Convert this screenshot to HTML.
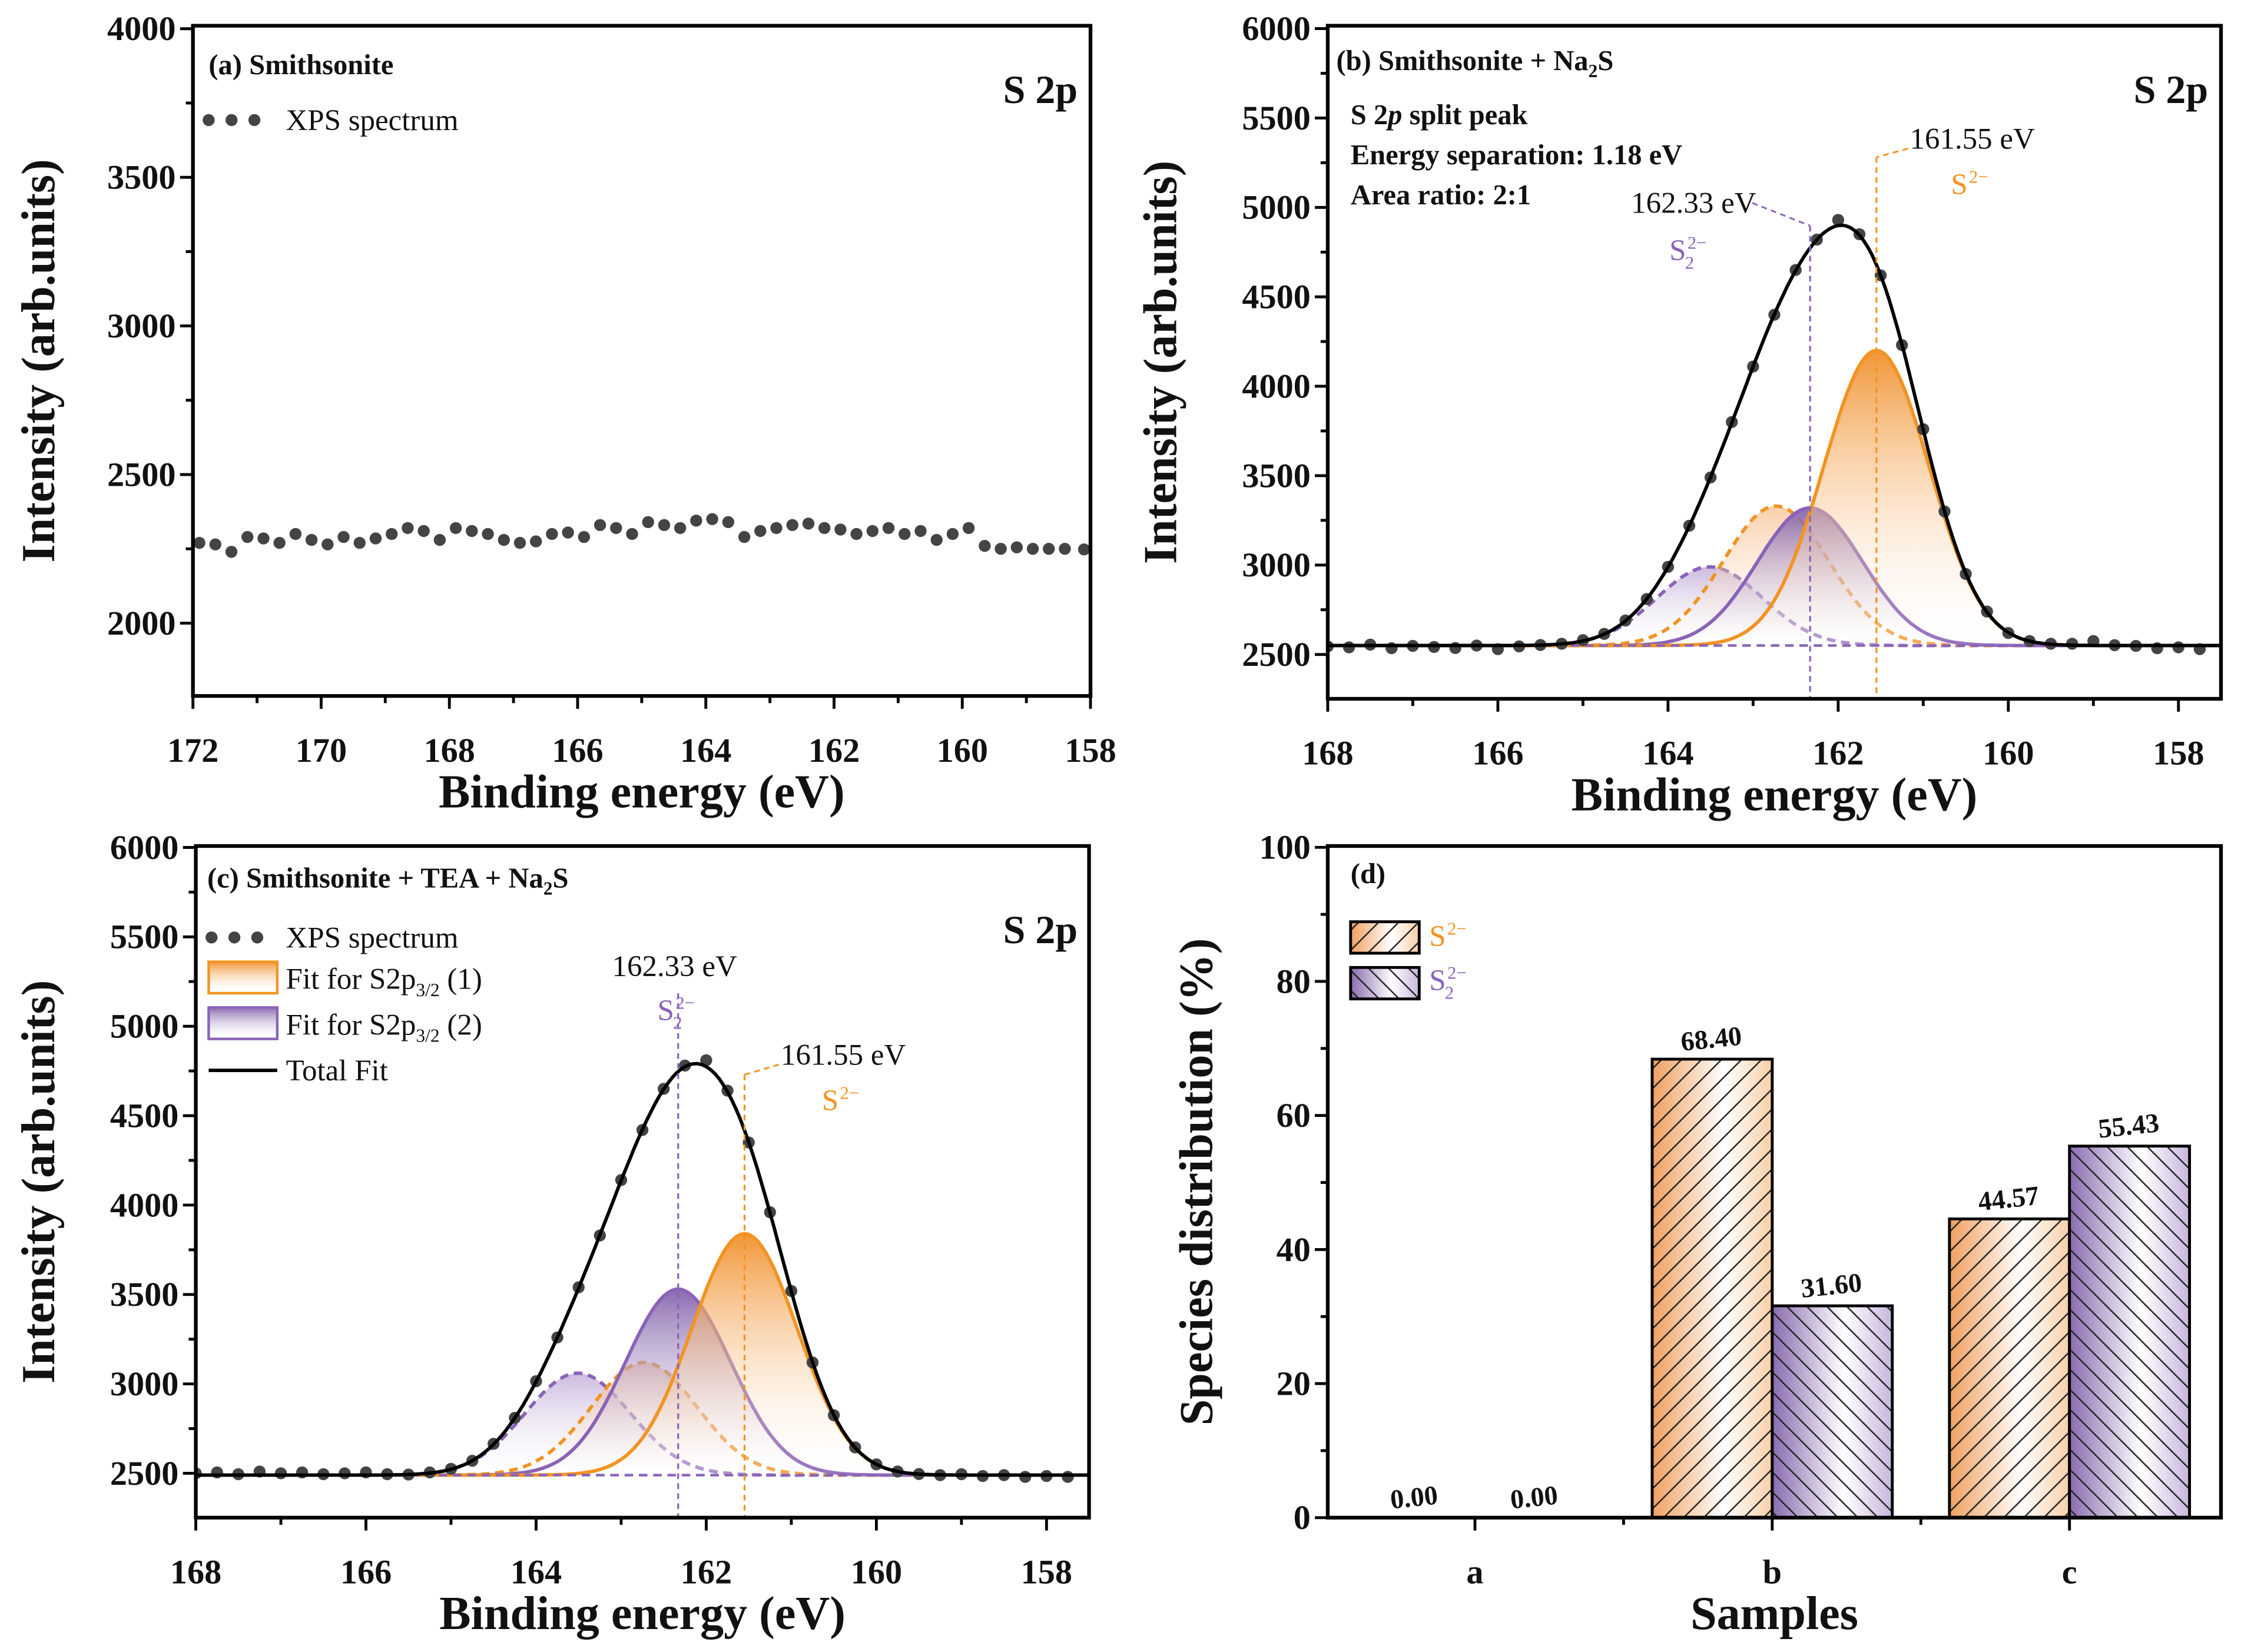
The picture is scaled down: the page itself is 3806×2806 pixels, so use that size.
<!DOCTYPE html>
<html><head><meta charset="utf-8"><style>
html,body{margin:0;padding:0;background:#fff}
svg{display:block}
text{font-family:"Liberation Serif",serif;font-weight:bold;fill:#111}
</style></head><body>
<svg id="fig" xmlns="http://www.w3.org/2000/svg" width="3806" height="2806" viewBox="0 0 1568 1156">
<defs>
<linearGradient id="gO" x1="0" y1="0" x2="0" y2="1"><stop offset="0" stop-color="#f08a20" stop-opacity="0.9"/><stop offset="1" stop-color="#fff" stop-opacity="0.1"/></linearGradient>
<linearGradient id="gP" x1="0" y1="0" x2="0" y2="1"><stop offset="0" stop-color="#7c5aa6" stop-opacity="0.9"/><stop offset="1" stop-color="#fff" stop-opacity="0.1"/></linearGradient>
<linearGradient id="gO2" x1="0" y1="0" x2="0" y2="1"><stop offset="0" stop-color="#f5b070" stop-opacity="0.6"/><stop offset="1" stop-color="#fff" stop-opacity="0.1"/></linearGradient>
<linearGradient id="gP2" x1="0" y1="0" x2="0" y2="1"><stop offset="0" stop-color="#a88cc8" stop-opacity="0.6"/><stop offset="1" stop-color="#fff" stop-opacity="0.1"/></linearGradient>
<linearGradient id="bO" x1="0" y1="0" x2="1" y2="0"><stop offset="0" stop-color="#f0a060"/><stop offset="0.6" stop-color="#fff"/><stop offset="1" stop-color="#f8cfa8"/></linearGradient>
<linearGradient id="bP" x1="0" y1="0" x2="1" y2="0"><stop offset="0" stop-color="#8a6cb0"/><stop offset="0.6" stop-color="#fff"/><stop offset="1" stop-color="#c8b6de"/></linearGradient>
<pattern id="hF" width="14" height="14" patternUnits="userSpaceOnUse"><path d="M0,14 L14,0 M-3,3 L3,-3 M11,17 L17,11" stroke="#222" stroke-width="1"/></pattern>
<pattern id="hB" width="14" height="14" patternUnits="userSpaceOnUse"><path d="M0,0 L14,14 M-3,11 L3,17 M11,-3 L17,3" stroke="#222" stroke-width="1"/></pattern>
</defs>
<g id="root"></g>
</svg>
<script>
// ---------- data ----------
const aEnergy = [171.9,171.65,171.4,171.15,170.9,170.65,170.4,170.15,169.9,169.65,169.4,169.15,168.9,168.65,168.4,168.15,167.9,167.65,167.4,167.15,166.9,166.65,166.4,166.15,165.9,165.65,165.4,165.15,164.9,164.65,164.4,164.15,163.9,163.65,163.4,163.15,162.9,162.65,162.4,162.15,161.9,161.65,161.4,161.15,160.9,160.65,160.4,160.15,159.9,159.65,159.4,159.15,158.9,158.65,158.4,158.1];
const aIntensity = [2270,2265,2240,2290,2285,2270,2300,2280,2265,2290,2270,2285,2300,2320,2310,2280,2320,2310,2300,2280,2270,2275,2300,2305,2290,2330,2320,2300,2340,2330,2320,2345,2350,2340,2290,2310,2320,2330,2335,2320,2315,2300,2310,2320,2300,2310,2280,2300,2320,2260,2250,2255,2250,2250,2250,2248];
const eGrid = [168,167.75,167.5,167.25,167,166.75,166.5,166.25,166,165.75,165.5,165.25,165,164.75,164.5,164.25,164,163.75,163.5,163.25,163,162.75,162.5,162.25,162,161.75,161.5,161.25,161,160.75,160.5,160.25,160,159.75,159.5,159.25,159,158.75,158.5,158.25,158,157.75];
const bIntensity = [2545,2540,2555,2535,2548,2542,2536,2550,2530,2545,2553,2560,2580,2615,2690,2810,2990,3220,3490,3800,4110,4400,4650,4820,4930,4850,4620,4230,3760,3300,2950,2740,2620,2575,2560,2560,2575,2552,2548,2535,2540,2530];
const cIntensity = [2500,2505,2495,2510,2500,2505,2495,2500,2505,2495,2493,2505,2525,2570,2665,2810,3015,3260,3540,3830,4140,4420,4650,4780,4810,4640,4350,3960,3520,3120,2825,2645,2550,2510,2496,2490,2495,2485,2490,2480,2485,2480];
const bCenters = [161.55,162.73,162.33,163.51];
const bAmps = [1650,780,770,440];
const bBase = 2550;
const cCenters = [161.55,162.73,162.33,163.51];
const cAmps = [1350,630,1040,570];
const cBase = 2490;
const sigma = 0.62;
const dCategories = ['a','b','c'];
const dS2 = [0.00,68.40,44.57];
const dS22 = [0.00,31.60,55.43];

// ---------- helpers ----------
const NS='http://www.w3.org/2000/svg';
const root=document.getElementById('root');
function mk(tag,parent){const e=document.createElementNS(NS,tag);(parent||root).appendChild(e);return e;}
function set(e,o){for(const k in o)e.setAttribute(k,o[k]);return e;}
function txt(s,x,y,size,anchor,parent){const t=mk('text',parent);set(t,{x:x,y:y,'font-size':size,'text-anchor':anchor||'middle'});t.textContent=s;return t;}

function panel(P){
  const g=mk('g');
  
  
  P.g=g;
  P.sx=v=>P.x0+(P.xa-v)/(P.xa-P.xb)*(P.x1-P.x0);
  P.sy=v=>P.y1-(v-P.ya)/(P.yb-P.ya)*(P.y1-P.y0);
  return P;
}
function frame(P){
  const r=mk('rect',P.g);set(r,{x:P.x0,y:P.y0,width:P.x1-P.x0,height:P.y1-P.y0,fill:'none',stroke:'#000','stroke-width':2.6});
  
  
}
function yTicks(P,vals,minor,fmt){
  const ga=mk('g',P.g);
  
  
  vals.forEach(v=>{const y=P.sy(v);set(mk('line',ga),{x1:P.x0-9,x2:P.x0,y1:y,y2:y,stroke:'#000','stroke-width':2});
    const t=txt(fmt?fmt(v):String(v),P.x0-12,y+8,24,'end',ga);
    
    });
  minor.forEach(v=>{const y=P.sy(v);set(mk('line',ga),{x1:P.x0-5,x2:P.x0,y1:y,y2:y,stroke:'#000','stroke-width':2});});
}
function xTicks(P,vals,minor){
  const ga=mk('g',P.g);
  
  
  vals.forEach(v=>{const x=P.sx(v);set(mk('line',ga),{x1:x,x2:x,y1:P.y1,y2:P.y1+9,stroke:'#000','stroke-width':2});
    const t=txt(String(v),x,P.y1+46,24,'middle',ga);
    
    });
  minor.forEach(v=>{const x=P.sx(v);set(mk('line',ga),{x1:x,x2:x,y1:P.y1,y2:P.y1+5,stroke:'#000','stroke-width':2});});
}
function titles(P,xt,yt,yx){
  const t1=txt(xt,(P.x0+P.x1)/2,P.y1+78,33,'middle',P.g);
  
  
  const cy=(P.y0+P.y1)/2;
  const t2=txt(yt,yx,cy,33,'middle',P.g);set(t2,{transform:`rotate(-90 ${yx} ${cy})`});
  
  
}
function dots(P,xs,ys,name){
  const g=mk('g',P.g);
  
  
  xs.forEach((x,i)=>{const c=mk('circle',g);set(c,{cx:P.sx(x),cy:P.sy(ys[i]),r:4.2,fill:'#444'});});
}
function gauss(E,c,a){return a*Math.exp(-(E-c)*(E-c)/(2*sigma*sigma));}
function comp(P,base,c,a,stroke,fill,dash,name){
  let d='',pts=[];
  for(let E=P.xb;E<=P.xa+1e-9;E+=0.05){pts.push([P.sx(E),P.sy(base+gauss(E,c,a))]);}
  d='M'+pts.map(p=>p[0].toFixed(1)+','+p[1].toFixed(1)).join(' L');
  const f=mk('path',P.g);set(f,{d:d+` L${P.sx(P.xa)},${P.sy(base)} L${P.sx(P.xb)},${P.sy(base)} Z`,fill:fill,stroke:'none'});
  
  
  const l=mk('path',P.g);set(l,{d:d,fill:'none',stroke:stroke,'stroke-width':2.4});
  if(dash)l.setAttribute('stroke-dasharray','6 4');
  
  
}
function total(P,base,cs,as){
  let pts=[];
  for(let E=P.xb;E<=P.xa+1e-9;E+=0.05){let s=base;cs.forEach((c,i)=>s+=gauss(E,c,as[i]));pts.push([P.sx(E),P.sy(s)]);}
  const l=mk('path',P.g);set(l,{d:'M'+pts.map(p=>p[0].toFixed(1)+','+p[1].toFixed(1)).join(' L'),fill:'none',stroke:'#000','stroke-width':2.4});
  
  
}
function baseLine(P,base){
  const l=mk('line',P.g);set(l,{x1:P.x0,x2:P.x1,y1:P.sy(base),y2:P.sy(base),stroke:'#8a63b8','stroke-width':1.8,'stroke-dasharray':'6 4'});
  
  
}
function vline(P,E,ytop,color,name){
  const l=mk('line',P.g);set(l,{x1:P.sx(E),x2:P.sx(E),y1:ytop,y2:P.y1,stroke:color,'stroke-width':1.3,'stroke-dasharray':'4 3'});
  
  
}
function s22(x,y,size,color,parent){
  const t=mk('text',parent);set(t,{x:x,y:y,'font-size':size,'text-anchor':'start',style:'fill:'+color+';font-weight:normal'});
  t.appendChild(document.createTextNode('S'));
  const a=mk('tspan',t);set(a,{dx:1,dy:-8,'font-size':size*0.6});a.textContent='2−';
  const b=mk('tspan',t);set(b,{dx:-size*0.72,dy:14,'font-size':size*0.6});b.textContent='2';
  return t;
}
function s2(x,y,size,color,parent){
  const t=mk('text',parent);set(t,{x:x,y:y,'font-size':size,'text-anchor':'start',style:'fill:'+color+';font-weight:normal'});
  t.appendChild(document.createTextNode('S'));
  const a=mk('tspan',t);set(a,{dx:1,dy:-8,'font-size':size*0.6});a.textContent='2−';
  return t;
}
const OR='#f39322', PU='#8a63b8';
function ytickvals(a,b,s){const r=[];for(let v=a;v<=b+1e-9;v+=s)r.push(v);return r;}

// ---------- panel a ----------
const A=panel({name:'panel-a',x0:135,x1:763,y0:18,y1:487,xa:172,xb:158,ya:1755,yb:4010});
dots(A,aEnergy,aIntensity,'xps-spectrum-points');
frame(A);
yTicks(A,ytickvals(2000,4000,500),ytickvals(2250,3750,500));
xTicks(A,ytickvals(158,172,2),ytickvals(159,171,2));
titles(A,'Binding energy (eV)','Intensity (arb.units)',38);
let t=txt('(a) Smithsonite',146,52,20,'start',A.g);
t=txt('S 2p',754,72,28,'end',A.g);
let lg=mk('g',A.g);
[146,162,178].forEach(x=>set(mk('circle',lg),{cx:x,cy:84,r:4.2,fill:'#444'}));
t=txt('XPS spectrum',200,91,21,'start',lg);t.setAttribute('style','font-weight:normal');

// ---------- fitted panels ----------
function fitted(P,base,cs,as,ys){
  const clip=mk('clipPath',P.g);clip.setAttribute('id',P.name+'-clip');
  set(mk('rect',clip),{x:P.x0,y:P.y0,width:P.x1-P.x0,height:P.y1-P.y0});
  const inner=mk('g',P.g);inner.setAttribute('clip-path',`url(#${P.name}-clip)`);
  
  const old=P.g;P.g=inner;
  comp(P,base,cs[3],as[3],PU,'url(#gP2)',true,'s22-p12');
  comp(P,base,cs[1],as[1],OR,'url(#gO2)',true,'s2-p12');
  comp(P,base,cs[2],as[2],PU,'url(#gP)',false,'s22-p32');
  comp(P,base,cs[0],as[0],OR,'url(#gO)',false,'s2-p32');
  baseLine(P,base);
  dots(P,eGrid,ys,'xps-spectrum-points');
  total(P,base,cs,as);
  P.g=old;
}
const B=panel({name:'panel-b',x0:929,x1:1554,y0:18,y1:489,xa:168,xb:157.5,ya:2252,yb:6016});
fitted(B,bBase,bCenters,bAmps,bIntensity);
vline(B,162.33,158,PU,'marker-line-s22');
vline(B,161.55,110,OR,'marker-line-s2');
set(mk('polyline',B.g),{points:`1226,142 ${B.sx(162.33)},158`,fill:'none',stroke:PU,'stroke-width':1.2,'stroke-dasharray':'4 3'});
set(mk('polyline',B.g),{points:`1335,104 ${B.sx(161.55)},110`,fill:'none',stroke:OR,'stroke-width':1.2,'stroke-dasharray':'4 3'});
frame(B);
yTicks(B,ytickvals(2500,6000,500),ytickvals(2750,5750,500));
xTicks(B,ytickvals(158,168,2),ytickvals(159,167,2));
titles(B,'Binding energy (eV)','Intensity (arb.units)',823);
t=txt('(b) Smithsonite + Na',935,49,20,'start',B.g);const sb=mk('tspan',t);set(sb,{dy:5,'font-size':13});sb.textContent='2';const sb2=mk('tspan',t);set(sb2,{dy:-5});sb2.textContent='S';

t=txt('S 2p',1545,72,28,'end',B.g);
t=txt('',945,87,20,'start',B.g);t.innerHTML='S 2<tspan font-style="italic">p</tspan> split peak';
t=txt('Energy separation: 1.18 eV',945,115,20,'start',B.g);
t=txt('Area ratio: 2:1',945,143,20,'start',B.g);
t=txt('162.33 eV',1185,149,21,'middle',B.g);t.setAttribute('style','font-weight:normal');
t=s22(1168,182,21,PU,B.g);
t=txt('161.55 eV',1380,104,21,'middle',B.g);t.setAttribute('style','font-weight:normal');
t=s2(1365,136,21,OR,B.g);

const C=panel({name:'panel-c',x0:137,x1:762,y0:592,y1:1062,xa:168,xb:157.5,ya:2252,yb:6008});
fitted(C,cBase,cCenters,cAmps,cIntensity);
vline(C,162.33,695,PU,'marker-line-s22');
vline(C,161.55,752,OR,'marker-line-s2');
set(mk('polyline',C.g),{points:`545,745 ${C.sx(161.55)},752`,fill:'none',stroke:OR,'stroke-width':1.2,'stroke-dasharray':'4 3'});
frame(C);
yTicks(C,ytickvals(2500,6000,500),ytickvals(2750,5750,500));
xTicks(C,ytickvals(158,168,2),ytickvals(159,167,2));
titles(C,'Binding energy (eV)','Intensity (arb.units)',38);
t=txt('(c) Smithsonite + TEA + Na',145,621,20,'start',C.g);const sc=mk('tspan',t);set(sc,{dy:5,'font-size':13});sc.textContent='2';const sc2=mk('tspan',t);set(sc2,{dy:-5});sc2.textContent='S';

t=txt('S 2p',754,660,28,'end',C.g);
t=txt('162.33 eV',472,683,21,'middle',C.g);t.setAttribute('style','font-weight:normal');
t=s22(460,714,21,PU,C.g);
t=txt('161.55 eV',590,745,21,'middle',C.g);t.setAttribute('style','font-weight:normal');
t=s2(575,777,21,OR,C.g);
// legend c
lg=mk('g',C.g);
[148,164,180].forEach(x=>set(mk('circle',lg),{cx:x,cy:656,r:4.2,fill:'#444'}));
t=txt('XPS spectrum',200,663,21,'start',lg);t.setAttribute('style','font-weight:normal');
set(mk('rect',lg),{x:146,y:673,width:48,height:22,fill:'url(#gO)',stroke:OR,'stroke-width':1.8});
t=txt('',200,692,21,'start',lg);t.setAttribute('style','font-weight:normal');t.innerHTML='Fit for S2p<tspan dy="5" font-size="13">3/2</tspan><tspan dy="-5"> (1)</tspan>';
set(mk('rect',lg),{x:146,y:705,width:48,height:22,fill:'url(#gP)',stroke:PU,'stroke-width':1.8});
t=txt('',200,724,21,'start',lg);t.setAttribute('style','font-weight:normal');t.innerHTML='Fit for S2p<tspan dy="5" font-size="13">3/2</tspan><tspan dy="-5"> (2)</tspan>';
set(mk('line',lg),{x1:146,x2:194,y1:749,y2:749,stroke:'#000','stroke-width':2.4});
t=txt('Total Fit',200,756,21,'start',lg);t.setAttribute('style','font-weight:normal');

// ---------- panel d ----------
const D=panel({name:'panel-d',x0:929,x1:1554,y0:592,y1:1062,xa:0,xb:0,ya:0,yb:100.2});
const catX=[1032,1240,1448];
const bw=84;
dCategories.forEach((c,i)=>{
  const vals=[dS2[i],dS22[i]];
  vals.forEach((v,k)=>{
    const x=catX[i]+(k===0?-bw:0), y=D.sy(v), h=D.y1-y;
    if(h>0.5){
      const r1=mk('rect',D.g);set(r1,{x:x,y:y,width:bw,height:h,fill:k===0?'url(#bO)':'url(#bP)'});
      
      
      set(mk('rect',D.g),{x:x,y:y,width:bw,height:h,fill:k===0?'url(#hF)':'url(#hB)',stroke:'#000','stroke-width':2});
    }
    const lt=txt(v.toFixed(2),x+bw/2,y-8,19,'middle',D.g);
    lt.setAttribute('transform',`rotate(-6 ${x+bw/2} ${y-8})`);
    
    
  });
});
frame(D);
yTicks(D,ytickvals(0,100,20),ytickvals(10,90,20));
const gx=mk('g',D.g);
dCategories.forEach((c,i)=>{set(mk('line',gx),{x1:catX[i],x2:catX[i],y1:D.y1,y2:D.y1+9,stroke:'#000','stroke-width':2});
  const tt=txt(c,catX[i],D.y1+46,24,'middle',gx);});
[1136,1344].forEach(x=>set(mk('line',gx),{x1:x,x2:x,y1:D.y1,y2:D.y1+5,stroke:'#000','stroke-width':2}));
titles(D,'Samples','Species distribution (%)',848);
t=txt('(d)',945,618,20,'start',D.g);
lg=mk('g',D.g);
set(mk('rect',lg),{x:945,y:645,width:48,height:22,fill:'url(#bO)'});
set(mk('rect',lg),{x:945,y:645,width:48,height:22,fill:'url(#hF)',stroke:'#000','stroke-width':2});
s2(1000,662,21,OR,lg);
set(mk('rect',lg),{x:945,y:677,width:48,height:22,fill:'url(#bP)'});
set(mk('rect',lg),{x:945,y:677,width:48,height:22,fill:'url(#hB)',stroke:'#000','stroke-width':2});
s22(1000,693,21,PU,lg);
</script>
</body></html>
